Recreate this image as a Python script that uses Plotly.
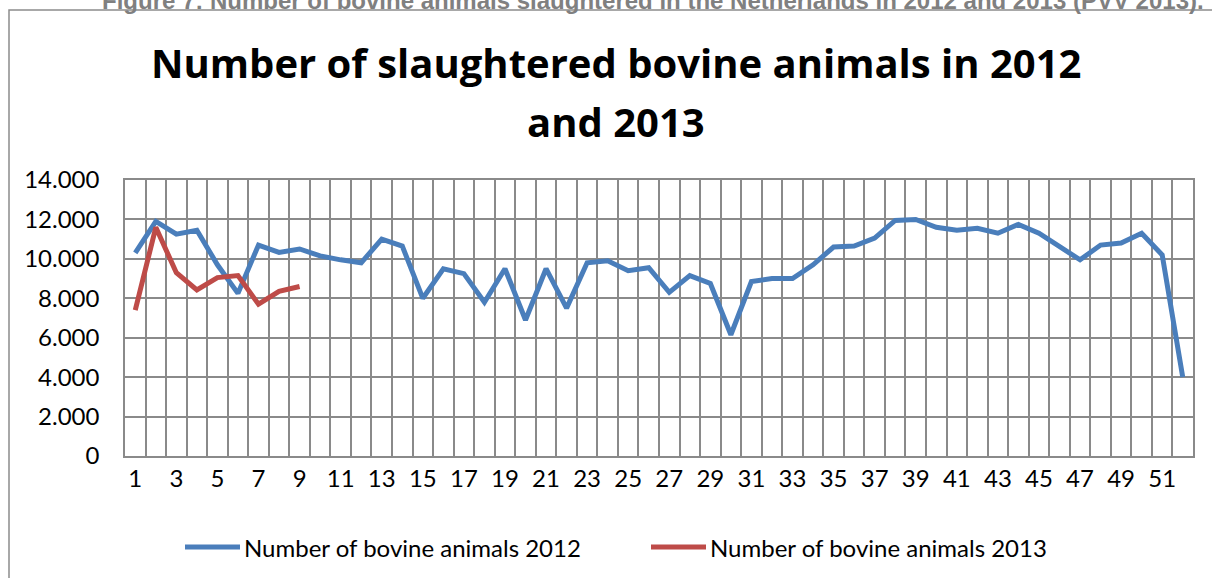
import plotly.graph_objects as go

# Weekly slaughter counts (week number -> number of animals)
weeks = list(range(1, 53))
bovine_2012 = [10300, 11900, 11250, 11450, 9700, 8250, 10700, 10330, 10500, 10150,
               9950, 9800, 11000, 10650, 8000, 9500, 9250, 7800, 9500, 6900,
               9500, 7500, 9800, 9900, 9400, 9550, 8300, 9150, 8750, 6150,
               8850, 9000, 9000, 9700, 10600, 10650, 11050, 11950, 12000, 11600,
               11450, 11550, 11300, 11750, 11300, 10650, 9950, 10700, 10800, 11300,
               10200, 4000]
weeks_2013 = list(range(1, 10))
bovine_2013 = [7400, 11600, 9300, 8420, 9050, 9150, 7700, 8350, 8600]

y_tickvals = [0, 2000, 4000, 6000, 8000, 10000, 12000, 14000]
y_ticktext = ["0", "2.000", "4.000", "6.000", "8.000", "10.000", "12.000", "14.000"]
x_tickvals = list(range(1, 53, 2))

series_names = ["Number of bovine animals 2012", "Number of bovine animals 2013"]
series_colors = ["#4a7ebb", "#be4b48"]
title_lines = ["Number of slaughtered bovine animals in 2012", "and 2013"]
caption = ("Figure 7: Number of bovine animals slaughtered in the Netherlands "
           "in 2012 and 2013 (PVV 2013).")

W, H = 1212, 578
L, R, T, B = 125, 1193, 180, 456  # plot-area box in pixels


def px(x):
    return (x - L) / (R - L)


def py(y):
    return (B - y) / (B - T)


GRID = "#8a8a8a"
FONT = "Lato"

fig = go.Figure()
fig.add_trace(go.Scatter(x=weeks, y=bovine_2012, mode="lines", name=series_names[0],
                         line=dict(color=series_colors[0], width=5)))
fig.add_trace(go.Scatter(x=weeks_2013, y=bovine_2013, mode="lines", name=series_names[1],
                         line=dict(color=series_colors[1], width=5)))

fig.update_layout(
    width=W, height=H,
    margin=dict(l=L, r=W - R, t=T, b=H - B, autoexpand=False),
    paper_bgcolor="white", plot_bgcolor="white",
    font=dict(family=FONT, size=24, color="black"),
    showlegend=False,
    xaxis=dict(range=[0.5, 52.5], tickmode="array", tickvals=x_tickvals,
               showgrid=False, zeroline=False, ticks="", ticklabelstandoff=0,
               showline=True, mirror=True, linecolor=GRID, linewidth=1.5,
               minor=dict(tick0=0.5, dtick=1, showgrid=True, gridcolor=GRID, gridwidth=1.5)),
    yaxis=dict(range=[0, 14000], tickmode="array", tickvals=y_tickvals, ticktext=y_ticktext,
               showgrid=True, gridcolor=GRID, gridwidth=1.5, zeroline=False, ticks="",
               ticklabelstandoff=19,
               showline=True, mirror=True, linecolor=GRID, linewidth=1.5),
)

# chart frame
fig.add_shape(type="rect", xref="paper", yref="paper",
              x0=px(9), x1=px(1225), y0=py(600), y1=py(10),
              line=dict(color="#8c8c8c", width=1.5), layer="below")

# legend below the plot: line sample followed by the series name
legend_x = [185, 651]
legend_y = 547
for name, color, x0 in zip(series_names, series_colors, legend_x):
    fig.add_shape(type="line", xref="paper", yref="paper",
                  x0=px(x0), x1=px(x0 + 55), y0=py(legend_y), y1=py(legend_y),
                  line=dict(color=color, width=5))
    fig.add_annotation(xref="paper", yref="paper", x=px(x0 + 57), y=py(legend_y),
                       text=name, showarrow=False, xanchor="left", yanchor="middle",
                       font=dict(family=FONT, size=24, color="black"))

# chart title, one annotation per line
for line_text, y_line in zip(title_lines, [63, 122]):
    fig.add_annotation(xref="paper", yref="paper", x=px(616), y=py(y_line),
                       text="<b>" + line_text + "</b>",
                       showarrow=False, xanchor="center", yanchor="middle",
                       font=dict(family="Open Sans", size=40, color="black"))

# figure caption, running off the top edge
fig.add_annotation(xref="paper", yref="paper", x=px(1206), y=py(16),
                   text="<b>" + caption + "</b>", showarrow=False,
                   xanchor="right", yanchor="bottom",
                   font=dict(family="Liberation Sans", size=24, color="#808080"))

fig.write_html("out.html")
